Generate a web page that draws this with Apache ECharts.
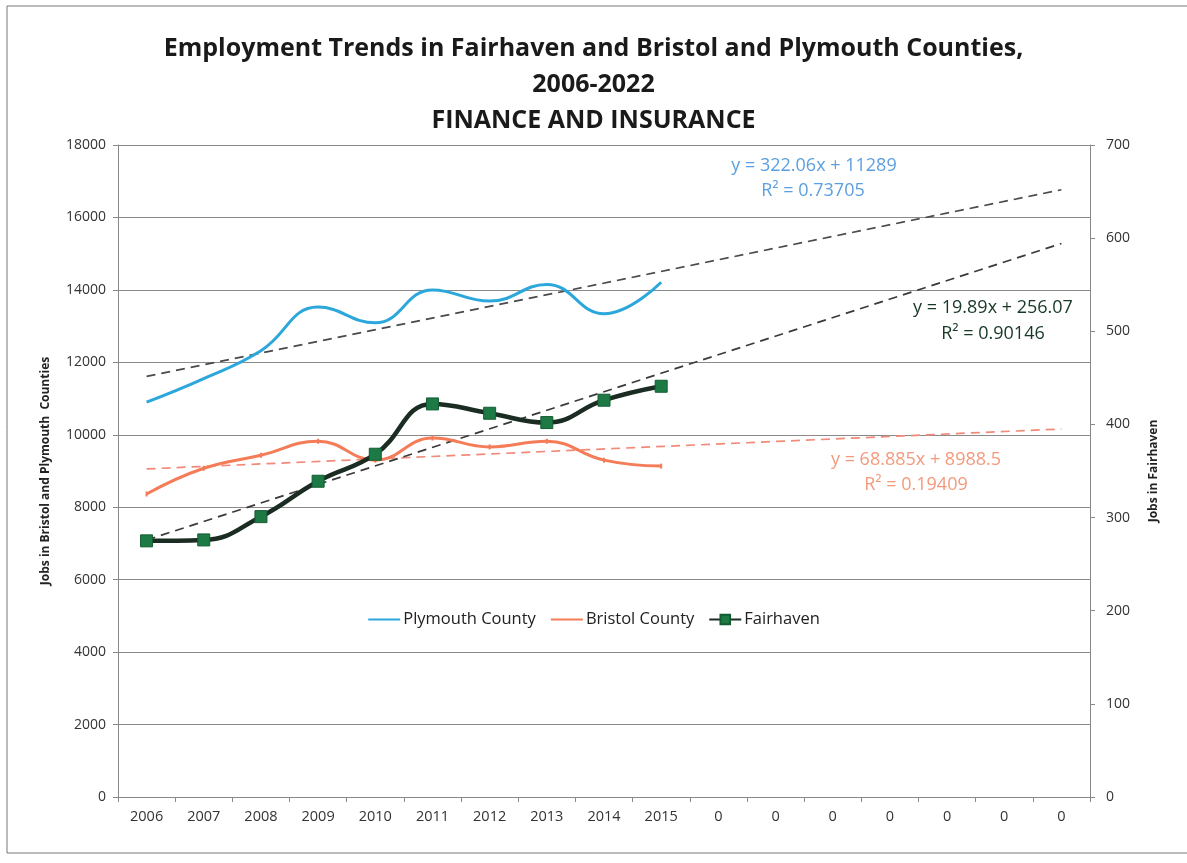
<!DOCTYPE html>
<html>
<head>
<meta charset="utf-8">
<title>Employment Trends – Finance and Insurance</title>
<script src="https://cdn.jsdelivr.net/npm/echarts@6/dist/echarts.min.js"></script>
<style>
  html, body { margin: 0; padding: 0; background: #fff; }
  #chart { width: 1187px; height: 863px; }
</style>
</head>
<body>
<div id="chart"></div>
<script>
// Year labels along the bottom (empty forecast slots are shown as 0)
const categories = ['2006', '2007', '2008', '2009', '2010', '2011', '2012', '2013', '2014', '2015',
                    '0', '0', '0', '0', '0', '0', '0'];

// Jobs in Finance and Insurance
const plymouthJobs = [10900, 11550, 12320, 13525, 13090, 14000, 13690, 14150, 13340, 14210];
const bristolJobs  = [8365, 9075, 9435, 9820, 9300, 9910, 9665, 9820, 9300, 9135];
const fairhavenJobs = [275, 276, 301, 339, 368, 422, 412, 402, 426, 441];

// Linear trend coefficients (x = 1 for 2006)
const plymouthTrend  = { slope: 322.06, intercept: 11289, r2: '0.73705', eq: 'y = 322.06x + 11289' };
const bristolTrend   = { slope: 68.885, intercept: 8988.5, r2: '0.19409', eq: 'y = 68.885x + 8988.5' };
const fairhavenTrend = { slope: 19.89, intercept: 256.07, r2: '0.90146', eq: 'y = 19.89x + 256.07' };

// Axis ticks
const leftTicks  = { min: 0, max: 18000, interval: 2000 };
const rightTicks = { min: 0, max: 700, interval: 100 };

// A trend line spans the whole category range, first to last slot
function trendEnds(t) {
  const last = categories.length - 1;
  return [[0, t.intercept + t.slope * 1], [last, t.intercept + t.slope * (last + 1)]];
}

const FONT = '"Open Sans", "DejaVu Sans", sans-serif';
const chart = echarts.init(document.getElementById('chart'), null, { renderer: 'canvas' });

const dashed = (color) => ({ color: color, width: 1.7, type: [9, 6] });
const eqFont = '18px ' + FONT;

chart.setOption({
  backgroundColor: '#ffffff',
  animation: false,
  textStyle: { fontFamily: FONT },
  title: {
    text: 'Employment Trends in Fairhaven and Bristol and Plymouth Counties,\n2006-2022\nFINANCE AND INSURANCE',
    left: 'center',
    top: 26,
    textStyle: { fontFamily: FONT, fontSize: 25, fontWeight: 'bold', color: '#1a1a1a', lineHeight: 36 }
  },
  legend: {
    data: [
      { name: 'Plymouth County', itemStyle: { opacity: 0 } },
      { name: 'Bristol County', itemStyle: { opacity: 0 } },
      { name: 'Fairhaven' }
    ],
    left: 'center',
    top: 606,
    itemWidth: 32,
    itemHeight: 12,
    itemGap: 14,
    textStyle: { fontFamily: FONT, fontSize: 16.5, color: '#222', padding: [0, 0, 0, -2] }
  },
  grid: { left: 118, right: 97, top: 145, bottom: 66, containLabel: false },
  xAxis: {
    type: 'category',
    data: categories,
    boundaryGap: true,
    axisLine: { lineStyle: { color: '#888', width: 1 } },
    axisTick: { show: true, length: 5, lineStyle: { color: '#888' } },
    axisLabel: { color: '#333', fontSize: 14.5, margin: 12, fontFamily: FONT, interval: 0 },
    splitLine: { show: false }
  },
  yAxis: [
    {
      type: 'value',
      position: 'left',
      min: leftTicks.min, max: leftTicks.max, interval: leftTicks.interval,
      name: 'Jobs in Bristol and Plymouth  Counties',
      nameLocation: 'middle',
      nameGap: 66,
      nameRotate: 90,
      nameTextStyle: { fontFamily: FONT, fontSize: 12, fontWeight: 'bold', color: '#222' },
      axisLine: { show: true, lineStyle: { color: '#888' } },
      axisTick: { show: true, length: 5, lineStyle: { color: '#888' } },
      axisLabel: { color: '#333', fontSize: 14, margin: 12, fontFamily: FONT, formatter: (v) => String(v) },
      splitLine: { show: true, lineStyle: { color: '#8a8a8a', width: 1.2 } }
    },
    {
      type: 'value',
      position: 'right',
      min: rightTicks.min, max: rightTicks.max, interval: rightTicks.interval,
      name: 'Jobs in Fairhaven',
      nameLocation: 'middle',
      nameGap: 58,
      nameRotate: 90,
      nameTextStyle: { fontFamily: FONT, fontSize: 12, fontWeight: 'bold', color: '#222' },
      axisLine: { show: true, lineStyle: { color: '#888' } },
      axisTick: { show: true, length: 5, lineStyle: { color: '#888' } },
      axisLabel: { color: '#333', fontSize: 14, margin: 16, fontFamily: FONT },
      splitLine: { show: false }
    }
  ],
  series: [
    {
      name: 'Plymouth County', type: 'line', yAxisIndex: 0,
      data: plymouthJobs, smooth: 0.45, symbol: 'none',
      lineStyle: { color: '#2ba7dc', width: 3 },
      itemStyle: { color: '#2ba7dc' }, z: 4
    },
    {
      name: 'Bristol County', type: 'line', yAxisIndex: 0,
      data: bristolJobs, smooth: 0.45, symbol: 'rect', symbolSize: [2, 5],
      lineStyle: { color: '#f47c58', width: 3 },
      itemStyle: { color: '#f47c58' }, z: 4
    },
    {
      name: 'Fairhaven', type: 'line', yAxisIndex: 1,
      data: fairhavenJobs, smooth: 0.45, symbol: 'rect', symbolSize: 12,
      showAllSymbol: true,
      lineStyle: { color: '#1b2c22', width: 4.5 },
      itemStyle: { color: '#1d7a45', borderColor: '#145c33', borderWidth: 1 }, z: 5
    },
    {
      name: 'Plymouth trend', type: 'line', yAxisIndex: 0,
      data: trendEnds(plymouthTrend), symbol: 'none',
      lineStyle: dashed('#4a4a4a'), z: 3
    },
    {
      name: 'Bristol trend', type: 'line', yAxisIndex: 0,
      data: trendEnds(bristolTrend), symbol: 'none',
      lineStyle: dashed('#f28a7a'), z: 3
    },
    {
      name: 'Fairhaven trend', type: 'line', yAxisIndex: 1,
      data: trendEnds(fairhavenTrend), symbol: 'none',
      lineStyle: dashed('#3a3a3a'), z: 3
    }
  ],
  graphic: [
    { type: 'rect', shape: { x: 7, y: 6, width: 1200, height: 847 },
      style: { fill: 'none', stroke: '#777', lineWidth: 1 }, silent: true, z: -1 },
    { type: 'text', x: 814, y: 166, style: { text: plymouthTrend.eq, fill: '#5c9fe0', font: eqFont, textAlign: 'center', textVerticalAlign: 'middle' } },
    { type: 'text', x: 813, y: 191, style: { text: 'R² = ' + plymouthTrend.r2, fill: '#5c9fe0', font: eqFont, textAlign: 'center', textVerticalAlign: 'middle' } },
    { type: 'text', x: 993, y: 308, style: { text: fairhavenTrend.eq, fill: '#173826', font: eqFont, textAlign: 'center', textVerticalAlign: 'middle' } },
    { type: 'text', x: 993, y: 334, style: { text: 'R² = ' + fairhavenTrend.r2, fill: '#173826', font: eqFont, textAlign: 'center', textVerticalAlign: 'middle' } },
    { type: 'text', x: 916, y: 460, style: { text: bristolTrend.eq, fill: '#f39a7c', font: eqFont, textAlign: 'center', textVerticalAlign: 'middle' } },
    { type: 'text', x: 916, y: 485, style: { text: 'R² = ' + bristolTrend.r2, fill: '#f39a7c', font: eqFont, textAlign: 'center', textVerticalAlign: 'middle' } }
  ]
});
</script>
</body>
</html>
